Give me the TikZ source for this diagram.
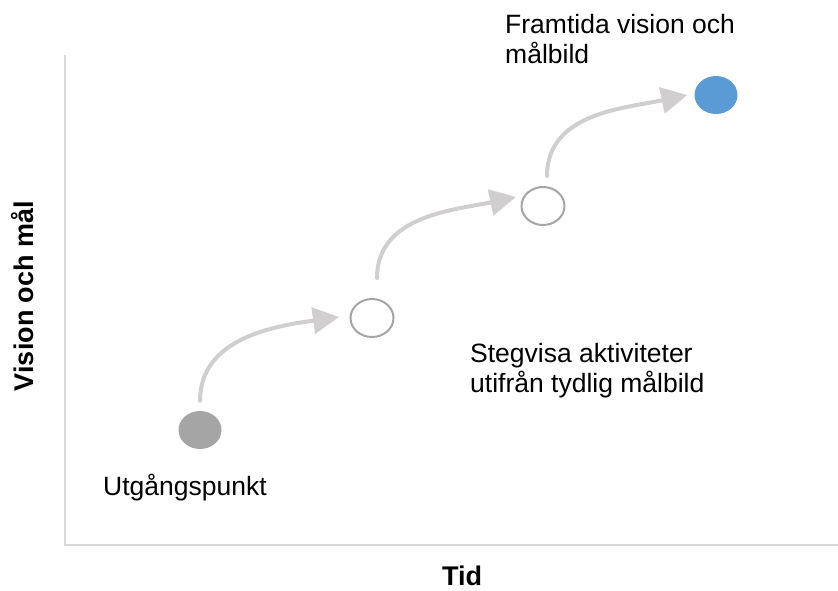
\documentclass[tikz,border=0pt]{standalone}
\usepackage{fontspec}
\setmainfont{Liberation Sans}
\usetikzlibrary{arrows.meta,shapes.geometric}
\definecolor{axisgray}{HTML}{D9D9D9}
\definecolor{stepgray}{HTML}{A5A5A5}
\definecolor{arrowgray}{HTML}{D0CECE}
\definecolor{goalblue}{HTML}{5B9BD5}
\tikzset{
  milestone/.style={ellipse, minimum width=43pt, minimum height=38pt, inner sep=0pt},
  startdot/.style={milestone, fill=stepgray},
  stepdot/.style={milestone, draw=stepgray, line width=2pt, fill=white},
  goaldot/.style={milestone, fill=goalblue},
  arr/.style={draw=arrowgray, line width=4pt, line cap=round,
    -{Triangle[length=26pt,width=26pt]}},
  axisline/.style={draw=axisgray, line width=1.5pt},
  lbl/.style={font=\fontsize{26.5}{30}\selectfont, inner sep=0pt, align=left},
  axislbl/.style={font=\fontsize{27}{30}\selectfont\bfseries, inner sep=0pt}
}
\begin{document}
\begin{tikzpicture}[x=1pt,y=-1pt]
\useasboundingbox (0,0) rectangle (838,590);

% axes
\coordinate (origin) at (65,545);
\coordinate (ytop) at (65,55);
\coordinate (xend) at (838,545);
\draw[axisline] (ytop) -- (origin) -- (xend);

% milestones
\node[startdot] (p0) at (200,430) {};
\node[stepdot]  (p1) at (372,318) {};
\node[stepdot]  (p2) at (543,206) {};
\node[goaldot]  (p3) at (716,95) {};

% curved steps between milestones
\draw[arr] ([yshift=10pt]p0.north) to[out=90,in=188] ([xshift=-10.5pt,yshift=1pt]p1.west);
\draw[arr] ([xshift=5pt,yshift=20pt]p1.north) to[out=90,in=192] ([xshift=-4.5pt,yshift=9pt]p2.west);
\draw[arr] ([xshift=4pt,yshift=10pt]p2.north) to[out=90,in=192] ([xshift=-7pt]p3.west);

% labels (base anchor sits on the last line)
\node[lbl, anchor=base west] (goal) at (505,63) {Framtida vision och\\målbild};
\node[lbl, anchor=base west] (start) at (103,495) {Utgångspunkt};
\node[lbl, anchor=base west] (steps) at (470,392) {Stegvisa aktiviteter\\utifrån tydlig målbild};
\node[axislbl, anchor=base, rotate=90] (ylabel) at (33,296) {Vision och mål};
\node[axislbl, anchor=base] (xlabel) at (462,585) {Tid};
\end{tikzpicture}
\end{document}
